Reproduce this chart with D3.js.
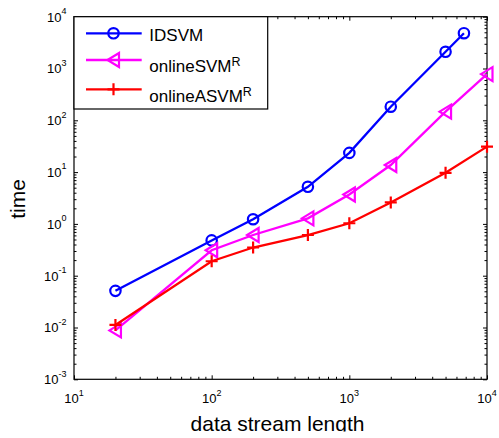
<!DOCTYPE html>
<html>
<head>
<meta charset="utf-8">
<script src="https://cdn.jsdelivr.net/npm/d3@7"></script>
<style>
  body { margin: 0; background: #fff; }
  svg { display: block; font-family: "Liberation Sans", Arial, Helvetica, sans-serif; }
</style>
</head>
<body>
<div id="chart"></div>
<script>
// tick values (decades)
const xTicks = [1e1, 1e2, 1e3, 1e4];
const yTicks = [1e-3, 1e-2, 1e-1, 1e0, 1e1, 1e2, 1e3, 1e4];

// series
const idsvmX = [20, 100, 200, 500, 1000, 2000, 5000, 6800];
const idsvmY = [0.051, 0.48, 1.23, 5.2, 23.5, 183, 2100, 4800];
const onlineSvmX = [20, 100, 200, 500, 1000, 2000, 5000, 10000];
const onlineSvmY = [0.0088, 0.31, 0.61, 1.28, 3.7, 13.7, 147, 780];
const onlineAsvmX = [20, 100, 200, 500, 1000, 2000, 5000, 10000];
const onlineAsvmY = [0.0112, 0.19, 0.35, 0.61, 1.03, 2.6, 9.7, 31];

const legendNames = ['IDSVM', 'onlineSVM', 'onlineASVM'];
const legendSup = ['', 'R', 'R'];

const series = [
  { x: idsvmX, y: idsvmY, color: '#0000ff', marker: 'circle' },
  { x: onlineSvmX, y: onlineSvmY, color: '#ff00ff', marker: 'triangle' },
  { x: onlineAsvmX, y: onlineAsvmY, color: '#ff0000', marker: 'plus' }
];

const width = 499, height = 438;
const plot = { left: 74, right: 487, top: 16.7, bottom: 379.3 };

const x = d3.scaleLog().domain([10, 10000]).range([plot.left, plot.right]);
const y = d3.scaleLog().domain([1e-3, 1e4]).range([plot.bottom, plot.top]);

const minorOf = (ticks) => {
  const out = [];
  ticks.slice(0, -1).forEach(t => {
    for (let k = 2; k <= 9; k++) out.push(t * k);
  });
  return out;
};

const svg = d3.select('#chart')
  .append('svg')
  .attr('width', width)
  .attr('height', height);

svg.append('rect')
  .attr('width', width)
  .attr('height', height)
  .attr('fill', '#fff');

// the source figure was cropped through the x title's descenders
svg.append('clipPath')
  .attr('id', 'crop')
  .append('rect')
  .attr('width', width)
  .attr('height', 431.5);

// ticks, all pointing inward, on all four sides
const tickLen = 4, minorLen = 2.5;
const addAxis = (axisFn, scale, values, size, transform) => {
  svg.append('g')
    .attr('transform', transform)
    .call(axisFn(scale).tickValues(values).tickSize(size).tickSizeOuter(0).tickFormat(''))
    .call(g => g.select('.domain').remove())
    .call(g => g.selectAll('line').attr('stroke', '#000').attr('stroke-width', 1));
};

addAxis(d3.axisBottom, x, xTicks, -tickLen, `translate(0,${plot.bottom})`);
addAxis(d3.axisBottom, x, minorOf(xTicks), -minorLen, `translate(0,${plot.bottom})`);
addAxis(d3.axisTop, x, xTicks, -tickLen, `translate(0,${plot.top})`);
addAxis(d3.axisTop, x, minorOf(xTicks), -minorLen, `translate(0,${plot.top})`);
addAxis(d3.axisLeft, y, yTicks, -tickLen, `translate(${plot.left},0)`);
addAxis(d3.axisLeft, y, minorOf(yTicks), -minorLen, `translate(${plot.left},0)`);
addAxis(d3.axisRight, y, yTicks, -tickLen, `translate(${plot.right},0)`);
addAxis(d3.axisRight, y, minorOf(yTicks), -minorLen, `translate(${plot.right},0)`);

// box
svg.append('rect')
  .attr('x', plot.left)
  .attr('y', plot.top)
  .attr('width', plot.right - plot.left)
  .attr('height', plot.bottom - plot.top)
  .attr('fill', 'none')
  .attr('stroke', '#000')
  .attr('stroke-width', 1.2);

// tick labels as 10^n
const exp = v => Math.round(Math.log10(v));

const xLab = svg.selectAll('.x-label')
  .data(xTicks)
  .enter().append('text')
    .attr('class', 'x-label')
    .attr('x', d => x(d))
    .attr('y', plot.bottom + 24)
    .attr('text-anchor', 'middle')
    .style('font-size', '13px')
    .text('10');
xLab.append('tspan')
  .attr('dy', -7.5)
  .style('font-size', '9px')
  .text(d => exp(d));

const yLab = svg.selectAll('.y-label')
  .data(yTicks)
  .enter().append('text')
    .attr('class', 'y-label')
    .attr('x', plot.left - 7.5)
    .attr('y', d => y(d) + 4.8)
    .attr('text-anchor', 'end')
    .style('font-size', '13px')
    .text('10');
yLab.append('tspan')
  .attr('dy', -7.5)
  .style('font-size', '9px')
  .text(d => exp(d));

// axis titles
svg.append('text')
  .attr('x', 277.5)
  .attr('y', 431)
  .attr('text-anchor', 'middle')
  .attr('clip-path', 'url(#crop)')
  .style('font-size', '21px')
  .text('data stream length');

svg.append('text')
  .attr('transform', 'translate(25,199) rotate(-90)')
  .attr('text-anchor', 'middle')
  .style('font-size', '21px')
  .text('time');

// markers
const drawMarker = (g, type, color) => {
  if (type === 'circle') {
    g.append('circle')
      .attr('r', 5.2)
      .attr('fill', 'none')
      .attr('stroke', color)
      .attr('stroke-width', 2.2);
  } else if (type === 'triangle') {
    g.append('path')
      .attr('d', 'M-6,0 L5.5,-7 L5.5,7 Z')
      .attr('fill', 'none')
      .attr('stroke', color)
      .attr('stroke-width', 2.2)
      .attr('stroke-linejoin', 'miter');
  } else {
    g.append('path')
      .attr('d', 'M-6,0 L6,0 M0,-6 L0,6')
      .attr('fill', 'none')
      .attr('stroke', color)
      .attr('stroke-width', 2.2);
  }
};

const line = d3.line()
  .x(d => x(d[0]))
  .y(d => y(d[1]));

series.forEach(s => {
  const pts = s.x.map((v, i) => [v, s.y[i]]);
  svg.append('path')
    .datum(pts)
    .attr('d', line)
    .attr('fill', 'none')
    .attr('stroke', s.color)
    .attr('stroke-width', 2.3);

  svg.selectAll(null)
    .data(pts)
    .enter().append('g')
      .attr('transform', d => `translate(${x(d[0])},${y(d[1])})`)
      .each(function() { drawMarker(d3.select(this), s.marker, s.color); });
});

// legend
const legend = svg.append('g');
legend.append('rect')
  .attr('x', plot.left)
  .attr('y', plot.top)
  .attr('width', 267.7 - plot.left)
  .attr('height', 109 - plot.top)
  .attr('fill', '#fff')
  .attr('stroke', '#000')
  .attr('stroke-width', 1.2);

const legendLineY = [33.3, 60, 89.3];
const legendTextY = [40.7, 71.7, 101.7];

series.forEach((s, i) => {
  legend.append('line')
    .attr('x1', 86)
    .attr('x2', 141.7)
    .attr('y1', legendLineY[i])
    .attr('y2', legendLineY[i])
    .attr('stroke', s.color)
    .attr('stroke-width', 2.3);
  const mg = legend.append('g')
    .attr('transform', `translate(113.5,${legendLineY[i]})`);
  drawMarker(mg, s.marker, s.color);

  const t = legend.append('text')
    .attr('x', 149.3)
    .attr('y', legendTextY[i])
    .style('font-size', '17px')
    .text(legendNames[i]);
  if (legendSup[i]) {
    t.append('tspan')
      .attr('dy', -6)
      .style('font-size', '12.5px')
      .text(legendSup[i]);
  }
});
</script>
</body>
</html>
